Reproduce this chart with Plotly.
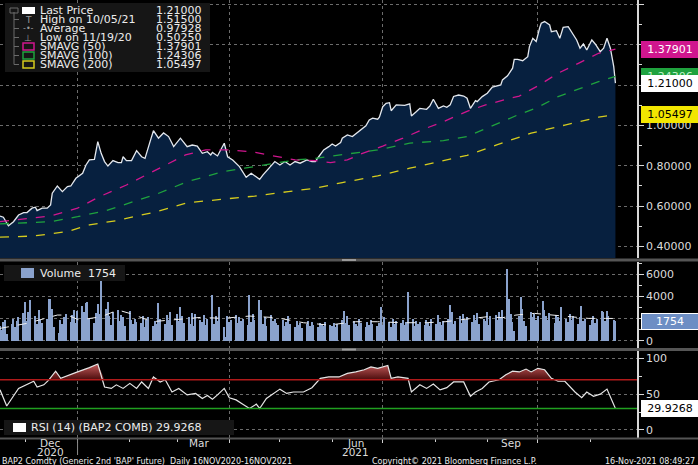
import pandas as pd
import plotly.graph_objects as go

START = pd.Timestamp("2020-11-16")

# price (Last Price), days after 16 Nov 2020
price_day = [0, 2, 5, 8, 11, 14, 16, 19, 21, 22,
             25, 28, 30, 31, 34, 37, 40, 42, 45, 49,
             51, 53, 56, 58, 60, 62, 64, 67, 70, 72,
             73, 75, 78, 81, 84, 86, 89, 91, 94, 97,
             100, 103, 107, 111, 114, 117, 120, 123, 125, 126,
             129, 132, 133, 135, 138, 142, 146, 149, 151, 154,
             156, 160, 163, 166, 169, 172, 175, 178, 182, 185,
             187, 189, 192, 195, 197, 199, 202, 203, 206, 209,
             212, 215, 217, 219, 221, 224, 225, 227, 229, 231,
             232, 235, 237, 240, 243, 244, 247, 249, 253, 255,
             257, 259, 260, 263, 265, 267, 269, 272, 275, 277,
             279, 282, 283, 286, 289, 292, 295, 297, 298, 301,
             304, 305, 307, 310, 313, 314, 316, 318, 320, 321,
             323, 326, 327, 330, 332, 334, 337, 339, 342, 344,
             346, 348, 351, 353, 356, 358, 360, 362, 364, 365]
price = [0.551, 0.545, 0.5025, 0.523, 0.556, 0.568, 0.568, 0.590, 0.595, 0.578,
         0.590, 0.590, 0.606, 0.664, 0.700, 0.672, 0.697, 0.700, 0.738, 0.763,
         0.804, 0.829, 0.832, 0.920, 0.862, 0.821, 0.799, 0.826, 0.816, 0.816,
         0.845, 0.826, 0.826, 0.875, 0.845, 0.837, 0.920, 0.974, 0.937, 0.963,
         0.945, 0.895, 0.937, 0.895, 0.903, 0.898, 0.862, 0.870, 0.854, 0.866,
         0.849, 0.895, 0.912, 0.845, 0.829, 0.796, 0.743, 0.763, 0.750, 0.733,
         0.755, 0.793, 0.821, 0.804, 0.821, 0.804, 0.821, 0.813, 0.829, 0.821,
         0.821, 0.845, 0.879, 0.895, 0.908, 0.898, 0.915, 0.937, 0.953, 0.945,
         0.964, 0.981, 0.998, 1.027, 1.036, 1.031, 1.041, 1.093, 1.110, 1.113,
         1.073, 1.102, 1.102, 1.100, 1.107, 1.047, 1.069, 1.085, 1.080, 1.097,
         1.130, 1.102, 1.085, 1.097, 1.090, 1.102, 1.144, 1.151, 1.146, 1.135,
         1.085, 1.123, 1.118, 1.143, 1.160, 1.190, 1.196, 1.201, 1.226, 1.246,
         1.284, 1.328, 1.328, 1.321, 1.341, 1.391, 1.432, 1.416, 1.482, 1.507,
         1.515, 1.498, 1.465, 1.470, 1.432, 1.487, 1.490, 1.465, 1.424, 1.383,
         1.404, 1.374, 1.424, 1.404, 1.366, 1.383, 1.432, 1.383, 1.292, 1.210]

sma50_day = [0, 30, 46, 59, 75, 93, 110, 122, 135, 149, 163, 175, 187, 196, 206,
             215, 227, 239, 251, 263, 277, 288, 299, 308, 320, 331, 343, 355, 365]
sma50 = [0.523, 0.551, 0.590, 0.647, 0.705, 0.780, 0.854, 0.879, 0.879, 0.870, 0.849, 0.829, 0.826, 0.816, 0.829,
         0.862, 0.898, 0.937, 0.981, 1.019, 1.070, 1.102, 1.127, 1.146, 1.201, 1.259, 1.308, 1.358, 1.37901]

sma100_day = [0, 30, 46, 63, 79, 93, 111, 132, 145, 157, 175, 187, 203, 224,
              243, 263, 277, 292, 307, 319, 331, 343, 355, 365]
sma100 = [0.512, 0.523, 0.548, 0.578, 0.622, 0.660, 0.721, 0.771, 0.788, 0.804, 0.829, 0.837, 0.854, 0.879,
          0.912, 0.925, 0.945, 0.998, 1.052, 1.090, 1.143, 1.180, 1.217, 1.24306]

sma200_day = [0, 20, 40, 53, 69, 93, 111, 133, 151, 171, 187, 203, 224, 243, 263, 277, 295, 315, 335, 355, 365]
sma200 = [0.446, 0.452, 0.474, 0.507, 0.528, 0.573, 0.617, 0.634, 0.650, 0.672, 0.689, 0.717, 0.750, 0.788,
          0.826, 0.852, 0.905, 0.962, 1.002, 1.041, 1.05497]

# daily volume, one value per business day from 16 Nov 2020
volume = [1300, 1000, 1700, 1900, 600, 1500, 2000, 1200, 1800, 2100,
          2500, 3500, 1800, 2600, 3700, 2200, 1500, 2800, 1900, 1600,
          2000, 3800, 3800, 2900, 1200, 700, 1900, 1500, 2100, 2400,
          1700, 2300, 2800, 1600, 2700, 3100, 2600, 3400, 3450, 2000,
          1600, 2500, 3300, 2400, 5450, 2900, 3500, 2200, 1400, 2600,
          2800, 1800, 2300, 2100, 1300, 2700, 1900, 1500, 2000, 1700,
          1600, 2200, 1200, 1900, 2100, 1300, 1800, 1500, 3400, 2000,
          1500, 2300, 1900, 2600, 1400, 2400, 1800, 3000, 2200, 1600,
          2100, 1500, 2500, 1300, 2400, 1900, 1700, 2300, 1400, 2000,
          4100, 1500, 2200, 1800, 3000, 1200, 300, 2200, 1700, 1900,
          2300, 1600, 2100, 1800, 2000, 1400, 4100, 1700, 2400, 1900,
          3660, 2800, 1500, 2100, 1300, 2300, 1800, 2000, 1600, 1400,
          1900, 1300, 1700, 2200, 1500, 1200, 1800, 1400, 1600, 1100,
          1500, 1800, 1300, 1700, 1400, 1200, 1600, 1500, 1300, 1700,
          1400, 1300, 1600, 1200, 1500, 1900, 2700, 1600, 2200, 1400,
          1800, 1500, 1300, 2000, 1600, 1200, 1700, 1400, 1900, 1500,
          1300, 1600, 3000, 1400, 2100, 1700, 1200, 2000, 1500, 1800,
          1600, 1900, 1400, 1700, 4350, 2000, 1300, 1800, 1500, 1700,
          1400, 1900, 1600, 1300, 2000, 1500, 2300, 1700, 1400, 1800,
          2000, 3200, 2600, 1500, 1800, 2200, 1600, 2400, 1900, 2100,
          1700, 2300, 1900, 2500, 1500, 2000, 1800, 2600, 1400, 2200,
          2300, 1900, 2600, 2100, 2800, 6450, 3800, 2400, 1700, 900,
          2200, 3960, 2900, 1800, 1300, 2600, 2100, 2400, 1900, 2200,
          3570, 2800, 2200, 1900, 2500, 1600, 2300, 2100, 1800, 3000,
          2000, 1700, 2400, 1900, 2200, 1500, 2100, 3100, 1800, 2000,
          1400, 1900, 2200, 1600, 2000, 2700, 2600, 1800, 2700, 2200,
          1900, 1754]

vol_avg_day = [0, 16, 34, 40, 47, 60, 70, 79, 90, 106, 119, 132, 148, 164, 180, 195,
               211, 224, 238, 253, 264, 277, 289, 298, 306, 317, 327, 338, 349, 359, 365]
vol_avg = [1110, 1560, 2310, 2310, 1860, 2160, 2760, 2370, 1710, 1950, 2100, 2010, 2220, 2070, 1620, 1410,
           1710, 1710, 1620, 1620, 1710, 1950, 2160, 2070, 2310, 2460, 2310, 2160, 2010, 2010, 2000]

rsi_day = [0, 4, 11, 16, 20, 22, 26, 29, 33, 36,
           41, 46, 53, 57, 58, 62, 66, 69, 73, 77,
           81, 84, 88, 91, 95, 98, 102, 106, 111, 116,
           120, 123, 126, 129, 133, 136, 140, 144, 148, 152,
           154, 158, 162, 166, 170, 174, 180, 185, 190, 195,
           201, 206, 211, 216, 220, 224, 230, 232, 236, 242,
           244, 249, 253, 257, 261, 265, 269, 275, 279, 282,
           286, 290, 296, 300, 304, 308, 312, 315, 319, 323,
           327, 331, 335, 341, 345, 348, 352, 356, 360, 363,
           365]
rsi = [56, 33.5, 58, 64, 68, 60, 63, 70, 82, 72,
       77, 81, 87, 91, 92, 60, 58, 63, 58, 65,
       58, 67, 58, 74, 67, 70, 53, 58, 49, 51,
       44, 48, 43, 49, 58, 45, 42, 36, 30, 36,
       30, 44, 51, 57, 51, 53, 53, 59, 72, 74,
       74, 79, 81, 84, 88, 86, 90, 72, 74, 72,
       53, 63, 58, 64, 56, 59, 67, 67, 47, 53,
       58, 67, 70, 77, 82, 81, 85, 81, 86, 84,
       72, 68, 68, 53, 45, 53, 47, 50, 57, 40,
       29.9268]
RSI_HIGH, RSI_LOW = 70, 30

legend_labels = ["Last Price", "High on 10/05/21", "Average", "Low on 11/19/20",
                 "SMAVG (50)", "SMAVG (100)", "SMAVG (200)"]
legend_values = ["1.21000", "1.51500", "0.97928", "0.50250", "1.37901", "1.24306", "1.05497"]
price_ticks = [0.4, 0.6, 0.8, 1.0, 1.2, 1.4, 1.6]
quarter_starts = ["2021-01-01", "2021-04-01", "2021-07-01", "2021-10-01"]
month_labels = [("2020-12-16", "Dec", "2020"), ("2021-03-14", "Mar", ""),
                ("2021-06-15", "Jun", "2021"), ("2021-09-15", "Sep", "")]

MAGENTA, GREEN, YELLOW, VOLBLUE = "#d0168e", "#1fa23e", "#d6cc1e", "#8aa2cc"
FONT = "DejaVu Sans"
W, H, PLOT_W = 698, 465, 637


def days(d):
    return START + pd.to_timedelta(d, unit="D")


def px(x):
    return x / PLOT_W


def py(y):
    return 1 - y / H


fig = go.Figure()
pdates = days(price_day)
fig.add_trace(go.Scatter(x=pdates, y=price, mode="lines", fill="tozeroy", fillcolor="#07203f",
                         line=dict(color="#e4e8ee", width=1.3), xaxis="x", yaxis="y"))
for d, v, c in [(sma200_day, sma200, YELLOW), (sma100_day, sma100, GREEN), (sma50_day, sma50, MAGENTA)]:
    fig.add_trace(go.Scatter(x=days(d), y=v, mode="lines", line=dict(color=c, width=1.3, dash="dash"),
                             xaxis="x", yaxis="y"))

vdates = pd.bdate_range(START, periods=len(volume))
fig.add_trace(go.Bar(x=vdates, y=volume, marker=dict(color=VOLBLUE, line_width=0),
                     width=86400000 * 0.85, xaxis="x2", yaxis="y2"))
fig.add_trace(go.Scatter(x=days(vol_avg_day), y=vol_avg, mode="lines",
                         line=dict(color="#f0f0f0", width=1, dash="dash"), xaxis="x2", yaxis="y2"))

rdates = days(rsi_day)
fig.add_trace(go.Scatter(x=rdates, y=[RSI_HIGH] * len(rsi), mode="lines", line=dict(width=0),
                         xaxis="x3", yaxis="y3"))
fig.add_trace(go.Scatter(x=rdates, y=[max(v, RSI_HIGH) for v in rsi], mode="lines", line=dict(width=0),
                         fill="tonexty",
                         fillgradient=dict(type="vertical", colorscale=[[0, "#4a0c0c"], [1, "#c25a5a"]]),
                         xaxis="x3", yaxis="y3"))
fig.add_trace(go.Scatter(x=rdates, y=rsi, mode="lines", line=dict(color="#e6e6e6", width=1.2),
                         xaxis="x3", yaxis="y3"))

grid = dict(showgrid=True, gridcolor="#6c6c6c", griddash="dot", gridwidth=1)
xcommon = dict(range=["2020-11-16", "2021-11-28 19:00"], tickmode="array", tickvals=quarter_starts,
               showticklabels=False, zeroline=False, domain=[0, 1], **grid)
ycommon = dict(side="right", showline=True, linecolor="#d8d8d8", linewidth=1.5, ticks="outside",
               ticklen=5, tickcolor="#d8d8d8", zeroline=False,
               tickfont=dict(family=FONT, size=11, color="#dcdcdc"), **grid)

fig.update_layout(
    width=W, height=H, margin=dict(l=0, r=W - PLOT_W, t=0, b=0),
    paper_bgcolor="black", plot_bgcolor="black", showlegend=False, bargap=0,
    font=dict(family=FONT, color="#e0e0e0"),
    xaxis=dict(anchor="y", ticks="", **xcommon),
    xaxis2=dict(anchor="y2", matches="x", ticks="", **xcommon),
    xaxis3=dict(anchor="y3", matches="x", ticks="outside", ticklen=4, tickcolor="#cfcfcf",
                minor=dict(tick0="2020-12-01", dtick="M1", ticks="outside", ticklen=3,
                           tickcolor="#cfcfcf", showgrid=False), **xcommon),
    yaxis=dict(domain=[py(258), 1], range=[0.343, 1.622], tickvals=price_ticks, tickformat=".5f",
               minor=dict(dtick=0.1, ticks="outside", ticklen=3, tickcolor="#d8d8d8", showgrid=False),
               anchor="x", **ycommon),
    yaxis2=dict(domain=[py(348), py(262)], range=[-658, 7090], tickvals=[0, 2000, 4000, 6000],
                minor=dict(dtick=1000, ticks="outside", ticklen=3, tickcolor="#d8d8d8", showgrid=False),
                anchor="x2", **ycommon),
    yaxis3=dict(domain=[py(438), py(351)], range=[-11.2, 110.2], tickvals=[0, 50, 100],
                minor=dict(dtick=25, ticks="outside", ticklen=3, tickcolor="#d8d8d8", showgrid=False),
                anchor="x3", **ycommon),
)

shapes = []
for y in (RSI_HIGH, RSI_LOW):
    shapes.append(dict(type="line", xref="paper", yref="y3", x0=0, x1=1, y0=y, y1=y,
                       line=dict(color="#b01a1a" if y == RSI_HIGH else "#20a020", width=1.5)))
for y in (260, 349.5, 438.5):
    shapes.append(dict(type="line", xref="paper", yref="paper", x0=0, x1=W / PLOT_W, y0=py(y), y1=py(y),
                       line=dict(color="#555555", width=3 if y < 400 else 2)))
for y in (260, 349.5):
    shapes.append(dict(type="line", xref="paper", yref="paper", x0=px(342), x1=px(356), y0=py(y), y1=py(y),
                       line=dict(color="#9a9a9a", width=2)))
shapes.append(dict(type="line", xref="x3", yref="paper", x0=quarter_starts[0], x1=quarter_starts[0],
                   y0=py(440), y1=py(455), line=dict(color="#8a8a8a", width=1)))

# legend boxes
shapes.append(dict(type="rect", xref="paper", yref="paper", x0=px(5), x1=px(210), y0=py(72), y1=py(3),
                   fillcolor="#161616", line_width=0))
shapes.append(dict(type="rect", xref="paper", yref="paper", x0=px(22), x1=px(35), y0=py(14), y1=py(7),
                   fillcolor="white", line_width=0))
shapes.append(dict(type="line", xref="paper", yref="paper", x0=px(14), x1=px(14), y0=py(64.5), y1=py(12),
                   line=dict(color="#6a6a6a", width=1)))
shapes.append(dict(type="rect", xref="paper", yref="paper", x0=px(10), x1=px(18), y0=py(13), y1=py(8),
                   line=dict(color="#6a6a6a", width=1)))
for i in range(1, 7):
    y = 10.5 + i * 9
    shapes.append(dict(type="line", xref="paper", yref="paper", x0=px(14), x1=px(19), y0=py(y), y1=py(y),
                       line=dict(color="#6a6a6a", width=1)))
for i, c in zip((4, 5, 6), (MAGENTA, GREEN, YELLOW)):
    y = 10.5 + i * 9
    shapes.append(dict(type="rect", xref="paper", yref="paper", x0=px(23), x1=px(34), y0=py(y + 3.5),
                       y1=py(y - 3.5), line=dict(color=c, width=1.5)))
shapes.append(dict(type="rect", xref="paper", yref="paper", x0=px(4), x1=px(125), y0=py(281), y1=py(265),
                   fillcolor="#161616", line_width=0))
shapes.append(dict(type="rect", xref="paper", yref="paper", x0=px(21), x1=px(34), y0=py(278), y1=py(268),
                   fillcolor=VOLBLUE, line_width=0))
shapes.append(dict(type="rect", xref="paper", yref="paper", x0=px(4), x1=px(234), y0=py(435), y1=py(420),
                   fillcolor="#161616", line_width=0))
shapes.append(dict(type="rect", xref="paper", yref="paper", x0=px(13), x1=px(26), y0=py(432), y1=py(423),
                   fillcolor="white", line_width=0))
fig.update_layout(shapes=shapes)

ann = []


def text(x, y, s, size=11, anchor="left", color="#ececec", xref="paper"):
    ann.append(dict(x=x, y=y, xref=xref, yref="paper", text=s, showarrow=False, xanchor=anchor,
                    yanchor="middle", font=dict(family=FONT, size=size, color=color)))


for i, (lab, val) in enumerate(zip(legend_labels, legend_values)):
    y = 10.5 + i * 9
    text(px(38), py(y), lab, size=11)
    text(px(204), py(y), val, size=11, anchor="right")
text(px(28), py(19.5), "T", size=9, anchor="center", color="#9a9a9a")
text(px(28), py(28.5), "-•-", size=8, anchor="center", color="#9a9a9a")
text(px(28), py(37.5), "⊥", size=9, anchor="center", color="#9a9a9a")
text(px(38), py(273), "Volume  1754", size=11)
text(px(29), py(427.5), "RSI (14) (BAP2 COMB) 29.9268", size=11)

for d, m, yr in month_labels:
    text(d, py(443), m, size=10.5, anchor="center", xref="x3", color="#dcdcdc")
    if yr:
        text(d, py(452), yr, size=10.5, anchor="center", xref="x3", color="#dcdcdc")
text(px(0), py(461), "BAP2 Comdty (Generic 2nd 'BAP' Future)  Daily 16NOV2020-16NOV2021", size=8)
text(px(370), py(461), "Copyright© 2021 Bloomberg Finance L.P.", size=8)
text(px(697), py(461), "16-Nov-2021 08:49:27", size=8, anchor="right")

# value tags on the right axis
for yval, s, bg, fg, yref in [(sma100[-1], "1.24306", GREEN, "#bff0c8", "y"),
                              (price[-1], "1.21000", "white", "black", "y"),
                              (sma50[-1], "1.37901", MAGENTA, "white", "y"),
                              (sma200[-1], "1.05497", "#f2e600", "black", "y"),
                              (volume[-1], "1754", "#6d8ec4", "white", "y2"),
                              (rsi[-1], "29.9268", "white", "black", "y3")]:
    ann.append(dict(x=px(641), y=yval, xref="paper", yref=yref, text=s, showarrow=False, xanchor="left",
                    yanchor="middle", bgcolor=bg, borderpad=1, width=54, align="center",
                    bordercolor="white" if yref == "y2" else bg, borderwidth=1,
                    font=dict(family=FONT, size=11, color=fg)))
fig.update_layout(annotations=ann)

fig.write_html("out.html", config={"displayModeBar": False},
               post_script="document.body.style.margin='0';")
